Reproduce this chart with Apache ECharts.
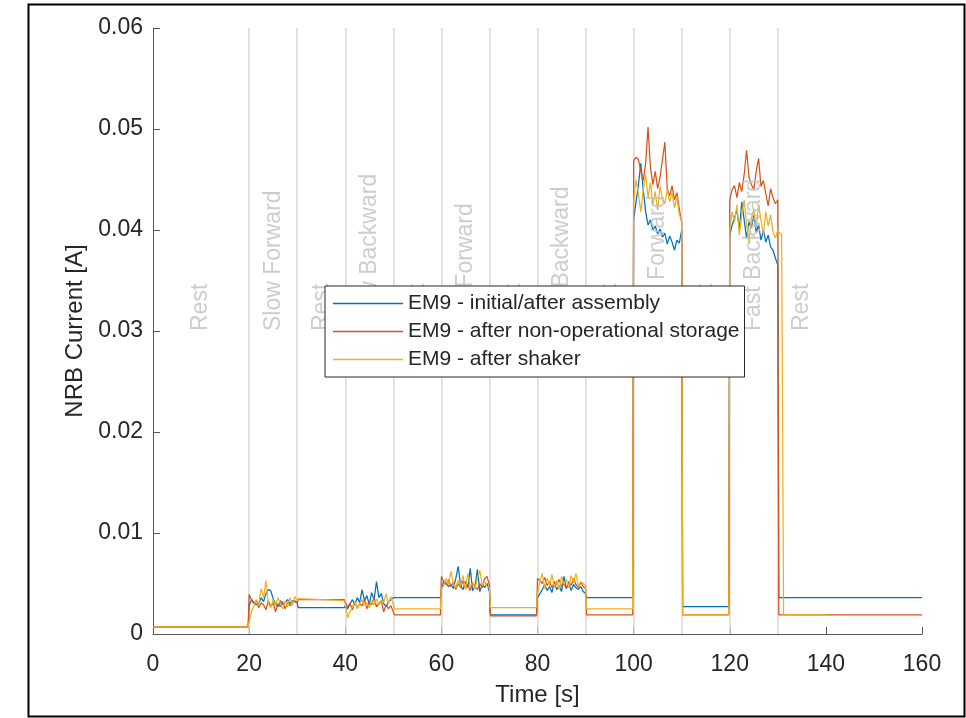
<!DOCTYPE html>
<html>
<head>
<meta charset="utf-8">
<script src="https://cdn.jsdelivr.net/npm/echarts@6/dist/echarts.min.js"></script>
<style>
html,body{margin:0;padding:0;background:#fff;}
#chart{width:966px;height:718px;}
</style>
</head>
<body>
<div id="chart"></div>
<script>
// ---- data ----
const seriesNames = ['EM9 - initial/after assembly', 'EM9 - after non-operational storage', 'EM9 - after shaker'];

const time = [0, 19.8,
  20,20.5,21,21.5,22,22.5,23,23.5,24,24.5,25,25.5,26,26.5,27,27.5,28,28.5,29,29.5,30,
  30.2, 39.8,
  40,40.5,41,41.5,42,42.5,43,43.5,44,44.5,45,45.5,46,46.5,47,47.5,48,48.5,49,49.5,50,
  50.2, 59.8,
  60,60.5,61,61.5,62,62.5,63,63.5,64,64.5,65,65.5,66,66.5,67,67.5,68,68.5,69,69.5,70,
  70.2, 79.8,
  80,80.5,81,81.5,82,82.5,83,83.5,84,84.5,85,85.5,86,86.5,87,87.5,88,88.5,89,89.5,90,
  90.2, 99.8,
  100,100.5,101,101.5,102,102.5,103,103.5,104,104.5,105,105.5,106,106.5,107,107.5,108,108.5,109,109.5,110,
  110.2, 119.8,
  120,120.5,121,121.5,122,122.5,123,123.5,124,124.5,125,125.5,126,126.5,127,127.5,128,128.5,129,129.5,130,
  130.2, 130.8, 131.2, 140.3, 160];

const blueValues = [0.0007, 0.0007,
  0.0028,0.0034,0.0031,0.0029,0.0030,0.0036,0.0032,0.0040,0.0044,0.0043,0.0035,0.0030,0.0027,0.0033,0.0029,0.0031,0.0034,0.0030,0.0033,0.0032,0.0031,
  0.0026, 0.0026,
  0.0028,0.0025,0.0030,0.0034,0.0029,0.0036,0.0031,0.0044,0.0033,0.0038,0.0029,0.0041,0.0034,0.0052,0.0036,0.0040,0.0030,0.0027,0.0032,0.0034,0.0036,
  0.0036, 0.0036,
  0.0044,0.0052,0.0050,0.0047,0.0049,0.0045,0.0055,0.0067,0.0048,0.0044,0.0052,0.0046,0.0065,0.0043,0.0047,0.0064,0.0042,0.0049,0.0046,0.0050,0.0042,
  0.0019, 0.0019,
  0.0036,0.0040,0.0044,0.0049,0.0043,0.0047,0.0041,0.0052,0.0044,0.0048,0.0042,0.0057,0.0045,0.0050,0.0043,0.0049,0.0046,0.0044,0.0047,0.0042,0.0040,
  0.0036, 0.0036,
  0.0410,0.0428,0.0445,0.0466,0.0440,0.0418,0.0405,0.0410,0.0400,0.0404,0.0396,0.0401,0.0393,0.0397,0.0386,0.0394,0.0388,0.0380,0.0390,0.0387,0.0400,
  0.0027, 0.0027,
  0.0395,0.0405,0.0412,0.0420,0.0400,0.0428,0.0410,0.0392,0.0408,0.0402,0.0415,0.0398,0.0405,0.0390,0.0400,0.0388,0.0395,0.0383,0.0380,0.0372,0.0365,
  0.0036, 0.0036, 0.0036, 0.0036, 0.0036];

const redValues = [0.0007, 0.0007,
  0.0039,0.0034,0.0030,0.0033,0.0026,0.0031,0.0029,0.0024,0.0033,0.0027,0.0031,0.0022,0.0030,0.0027,0.0032,0.0025,0.0031,0.0028,0.0030,0.0033,0.0031,
  0.0034, 0.0034,
  0.0031,0.0027,0.0030,0.0024,0.0032,0.0026,0.0030,0.0028,0.0034,0.0025,0.0031,0.0029,0.0036,0.0027,0.0030,0.0033,0.0022,0.0029,0.0025,0.0028,0.0022,
  0.0019, 0.0019,
  0.0057,0.0052,0.0049,0.0054,0.0047,0.0051,0.0044,0.0050,0.0046,0.0053,0.0045,0.0049,0.0043,0.0051,0.0047,0.0044,0.0050,0.0046,0.0055,0.0057,0.0048,
  0.0018, 0.0018,
  0.0055,0.0053,0.0050,0.0056,0.0048,0.0052,0.0046,0.0051,0.0049,0.0054,0.0047,0.0050,0.0045,0.0052,0.0048,0.0055,0.0049,0.0046,0.0051,0.0047,0.0045,
  0.0019, 0.0019,
  0.0469,0.0472,0.0470,0.0458,0.0449,0.0466,0.0502,0.0462,0.0445,0.0458,0.0441,0.0452,0.0470,0.0487,0.0440,0.0434,0.0444,0.0430,0.0437,0.0421,0.0407,
  0.0019, 0.0019,
  0.0430,0.0440,0.0444,0.0432,0.0447,0.0438,0.0455,0.0479,0.0452,0.0445,0.0440,0.0458,0.0471,0.0443,0.0449,0.0436,0.0424,0.0441,0.0432,0.0426,0.0430,
  0.0019, 0.0019, 0.0019, 0.0019, 0.0019];

const yellowValues = [0.0007, 0.0007,
  0.0012,0.0022,0.0028,0.0034,0.0029,0.0045,0.0036,0.0053,0.0030,0.0026,0.0034,0.0028,0.0036,0.0030,0.0025,0.0033,0.0027,0.0036,0.0029,0.0037,0.0033,
  0.0035, 0.0033,
  0.0030,0.0016,0.0022,0.0027,0.0032,0.0025,0.0030,0.0034,0.0028,0.0031,0.0026,0.0033,0.0029,0.0035,0.0028,0.0033,0.0031,0.0040,0.0030,0.0037,0.0029,
  0.0025, 0.0025,
  0.0045,0.0048,0.0055,0.0049,0.0062,0.0050,0.0046,0.0053,0.0048,0.0058,0.0044,0.0060,0.0047,0.0051,0.0045,0.0055,0.0063,0.0048,0.0052,0.0047,0.0046,
  0.0026, 0.0026,
  0.0040,0.0052,0.0060,0.0045,0.0055,0.0048,0.0059,0.0046,0.0053,0.0044,0.0057,0.0049,0.0054,0.0046,0.0058,0.0051,0.0060,0.0047,0.0052,0.0050,0.0048,
  0.0025, 0.0025,
  0.0428,0.0450,0.0436,0.0418,0.0440,0.0455,0.0432,0.0447,0.0425,0.0438,0.0420,0.0443,0.0431,0.0426,0.0440,0.0428,0.0437,0.0422,0.0433,0.0415,0.0410,
  0.0019, 0.0019,
  0.0400,0.0418,0.0408,0.0425,0.0395,0.0415,0.0430,0.0405,0.0388,0.0412,0.0420,0.0402,0.0425,0.0410,0.0396,0.0418,0.0404,0.0415,0.0398,0.0392,0.0400,
  0.0398, 0.0395, 0.0019, 0.0019, null];

const phaseBoundaries = [20, 30, 40, 50, 60, 70, 80, 90, 100, 110, 120, 130];
const phaseCenters = [10, 25, 35, 45, 55, 65, 75, 85, 95, 105, 115, 125, 135];
const phaseNames = ['Rest', 'Slow Forward', 'Rest', 'Slow Backward', 'Rest', 'Mid Forward', 'Rest',
  'Mid Backward', 'Rest', 'Fast Forward', 'Rest', 'Fast Backward', 'Rest'];
const phaseLabelLevel = 0.03;

const xTicks = { min: 0, max: 160, interval: 20 };
const yTicks = { min: 0, max: 0.06, interval: 0.01 };

// ---- chart ----
const FONT = '"Liberation Sans", Arial, Helvetica, sans-serif';
const colors = ['#0072BD', '#D95319', '#EDB120'];
const valueSets = [blueValues, redValues, yellowValues];

const chart = echarts.init(document.getElementById('chart'), null, { renderer: 'canvas' });

const lineSeries = seriesNames.map((name, k) => ({
  name: name,
  type: 'line',
  data: time.map((t, i) => [t, valueSets[k][i]]),
  symbol: 'none',
  connectNulls: false,
  z: 3,
  lineStyle: { color: colors[k], width: 1.25 },
  itemStyle: { color: colors[k] },
  animation: false
}));

lineSeries[0].markLine = {
  silent: true,
  symbol: ['none', 'none'],
  z: 1,
  label: { show: false },
  lineStyle: { color: '#d9d9d9', width: 1.5, type: 'solid' },
  emphasis: { disabled: true },
  data: phaseBoundaries.map(v => ({ xAxis: v })),
  animation: false
};

const phaseSeries = {
  name: 'phases',
  type: 'scatter',
  silent: true,
  symbolSize: 1,
  z: 4,
  itemStyle: { color: 'transparent' },
  data: phaseCenters.map((t, i) => ({ value: [t, phaseLabelLevel], name: phaseNames[i] })),
  label: {
    show: true,
    position: 'inside',
    rotate: 90,
    align: 'left',
    verticalAlign: 'middle',
    formatter: p => p.name,
    color: '#c0c0c0',
    fontSize: 23,
    fontFamily: FONT
  },
  animation: false
};

chart.setOption({
  backgroundColor: '#ffffff',
  animation: false,
  grid: { left: 153, right: 44, top: 28, bottom: 84, containLabel: false },
  legend: {
    data: seriesNames.map((n, k) => ({ name: n, icon: 'rect', itemStyle: { color: colors[k] } })),
    orient: 'vertical',
    left: 325,
    top: 286,
    backgroundColor: '#ffffff',
    borderColor: '#262626',
    borderWidth: 1,
    padding: [7, 5, 7, 8],
    itemWidth: 70,
    itemHeight: 1.5,
    itemGap: 7,
    selectedMode: false,
    z: 10,
    textStyle: { color: '#262626', fontSize: 21, lineHeight: 21, fontFamily: FONT }
  },
  xAxis: {
    type: 'value',
    min: xTicks.min, max: xTicks.max, interval: xTicks.interval,
    name: 'Time [s]',
    nameLocation: 'middle',
    nameGap: 49,
    nameTextStyle: { color: '#262626', fontSize: 24, fontFamily: FONT },
    axisLine: { show: true, onZero: false, lineStyle: { color: '#555555', width: 1 } },
    axisTick: { show: true, inside: true, length: 7, lineStyle: { color: '#555555' } },
    axisLabel: { color: '#262626', fontSize: 23, fontFamily: FONT, margin: 19 },
    splitLine: { show: false }
  },
  yAxis: {
    type: 'value',
    min: yTicks.min, max: yTicks.max, interval: yTicks.interval,
    name: 'NRB Current [A]',
    nameLocation: 'middle',
    nameGap: 54,
    nameTextStyle: { color: '#262626', fontSize: 24, fontFamily: FONT },
    axisLine: { show: true, lineStyle: { color: '#555555', width: 1 } },
    axisTick: { show: true, inside: true, length: 7, lineStyle: { color: '#555555' } },
    axisLabel: {
      color: '#262626', fontSize: 23, fontFamily: FONT, margin: 10,
      formatter: v => (v === 0 ? '0' : v.toFixed(2))
    },
    splitLine: { show: false }
  },
  graphic: [{
    type: 'rect',
    silent: true,
    z: 100,
    shape: { x: 28.5, y: 4.5, width: 936, height: 712 },
    style: { fill: 'none', stroke: '#000000', lineWidth: 2 }
  }],
  series: lineSeries.concat([phaseSeries])
});
</script>
</body>
</html>
